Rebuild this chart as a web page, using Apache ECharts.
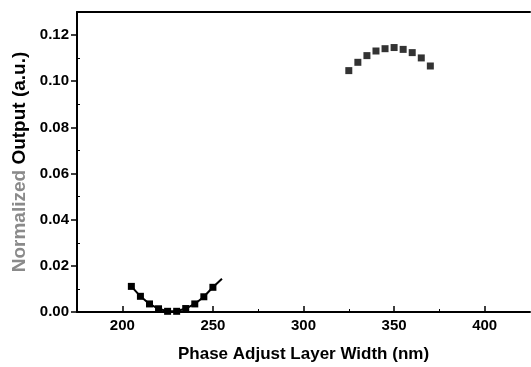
<!DOCTYPE html>
<html>
<head>
<meta charset="utf-8">
<script src="https://cdn.jsdelivr.net/npm/echarts@6/dist/echarts.min.js"></script>
<style>html,body{margin:0;padding:0;background:#fff;}#c{width:531px;height:367px;}</style>
</head>
<body>
<div id="c"></div>
<script>
// Data
const widthLow = [205, 210, 215, 220, 225, 230, 235, 240, 245, 250, 255];
const outputLow = [0.0111, 0.0068, 0.0035, 0.0014, 0.0003, 0.0003, 0.0015, 0.0035, 0.0066, 0.0107, 0.0144];
const widthHigh = [325, 330, 335, 340, 345, 350, 355, 360, 365, 370];
const outputHigh = [0.1046, 0.1082, 0.1111, 0.1131, 0.1141, 0.1146, 0.1138, 0.1124, 0.1101, 0.1066];
const xMajorTicks = [200, 250, 300, 350, 400];
const xMinorTicks = [225, 275, 325, 375];
const yMajorTicks = [0, 0.02, 0.04, 0.06, 0.08, 0.10, 0.12];
const yMinorTicks = [0.01, 0.03, 0.05, 0.07, 0.09, 0.11];

const lowData = widthLow.map((x, i) => [x, outputLow[i]]);
const highData = widthHigh.map((x, i) => [x, outputHigh[i]]);

const font = 'Liberation Sans, Arial, sans-serif';
const chart = echarts.init(document.getElementById('c'), null, {renderer: 'canvas'});
chart.setOption({
  animation: false,
  backgroundColor: '#fff',
  grid: {left: 77, right: 1, top: 12, bottom: 55, containLabel: false, outerBoundsMode: 'none'},
  xAxis: [
    {
      type: 'value', min: 175, max: 425, position: 'bottom',
      name: 'Phase Adjust Layer Width (nm)', nameLocation: 'middle', nameGap: 34,
      nameTextStyle: {fontFamily: font, fontSize: 17, fontWeight: 'bold', color: '#000'},
      axisLine: {show: true, lineStyle: {color: '#000', width: 2}},
      axisTick: {show: true, inside: true, length: 6, lineStyle: {color: '#000', width: 1.5}, customValues: xMajorTicks},
      axisLabel: {show: true, margin: 6, fontFamily: font, fontSize: 15, fontWeight: 'bold', color: '#000', customValues: xMajorTicks},
      splitLine: {show: false}
    },
    {
      type: 'value', min: 175, max: 425, position: 'bottom',
      axisLine: {show: false},
      axisTick: {show: true, inside: true, length: 3, lineStyle: {color: '#000', width: 1}, customValues: xMinorTicks},
      axisLabel: {show: false},
      splitLine: {show: false}
    },
    {
      type: 'value', min: 175, max: 425, position: 'top',
      axisLine: {show: true, lineStyle: {color: '#000', width: 2}},
      axisTick: {show: false}, axisLabel: {show: false}, splitLine: {show: false}
    }
  ],
  yAxis: [
    {
      type: 'value', min: 0, max: 0.13, position: 'left',
      name: '{g|Normalized} Output (a.u.)', nameLocation: 'middle', nameGap: 42,
      nameTextStyle: {fontFamily: font, fontSize: 19, fontWeight: 'bold', color: '#000',
        rich: {g: {fontFamily: font, fontSize: 19, fontWeight: 'bold', color: '#8a8a8a'}}},
      axisLine: {show: true, lineStyle: {color: '#000', width: 2}},
      axisTick: {show: true, inside: false, length: 6, lineStyle: {color: '#000', width: 1.5}, customValues: yMajorTicks},
      axisLabel: {show: true, margin: 8, fontFamily: font, fontSize: 15, fontWeight: 'bold', color: '#000',
        customValues: yMajorTicks, formatter: v => v.toFixed(2)},
      splitLine: {show: false}
    },
    {
      type: 'value', min: 0, max: 0.13, position: 'left',
      axisLine: {show: false},
      axisTick: {show: true, inside: true, length: 3, lineStyle: {color: '#000', width: 1}, customValues: yMinorTicks},
      axisLabel: {show: false},
      splitLine: {show: false}
    }
  ],
  series: [
    {
      type: 'line', data: lowData, xAxisIndex: 0, yAxisIndex: 0,
      symbol: 'rect',
      symbolSize: (v, p) => (p.dataIndex === lowData.length - 1 ? 0 : 7),
      itemStyle: {color: '#000'},
      lineStyle: {color: '#000', width: 2},
      showSymbol: true
    },
    {
      type: 'scatter', data: highData, xAxisIndex: 0, yAxisIndex: 0,
      symbol: 'rect', symbolSize: 7,
      itemStyle: {color: '#000'}
    }
  ]
});
</script>
</body>
</html>
